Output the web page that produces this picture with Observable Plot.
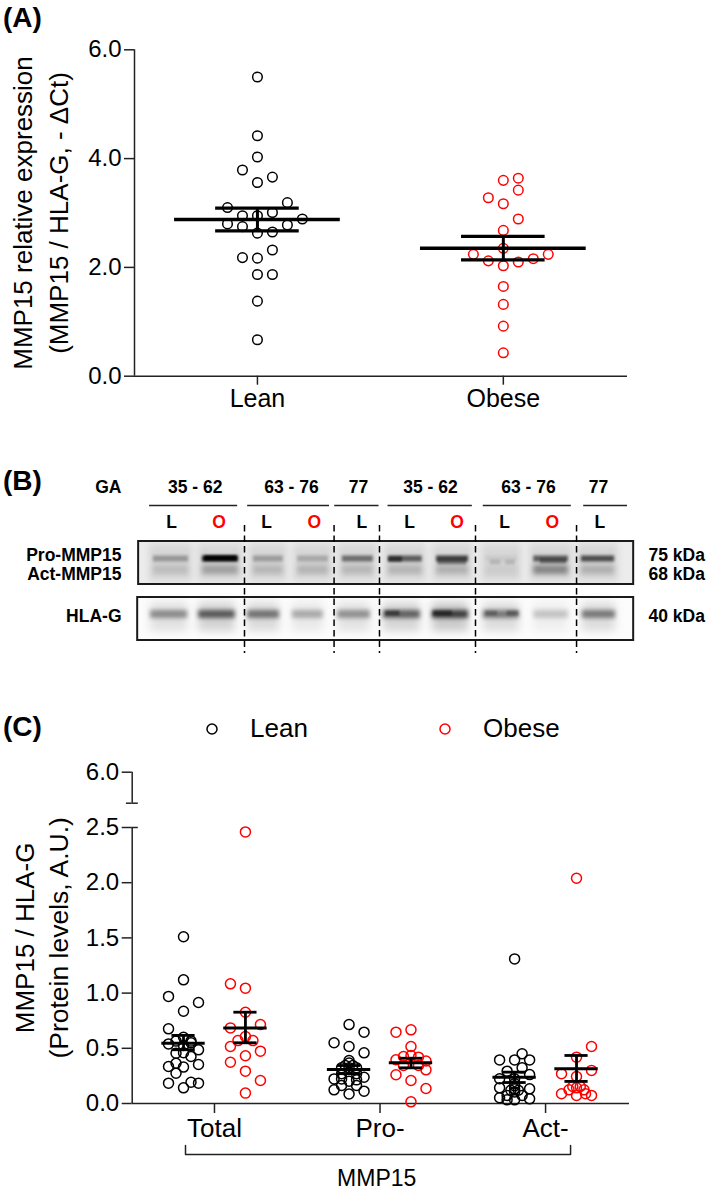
<!DOCTYPE html>
<html><head><meta charset="utf-8">
<script src="https://cdn.jsdelivr.net/npm/d3@7"></script>
<script src="https://cdn.jsdelivr.net/npm/@observablehq/plot@0.6"></script>
<style>
html,body{margin:0;padding:0;background:#fff;width:709px;height:1193px;overflow:hidden;font-family:"Liberation Sans",Arial,sans-serif}
#page{position:relative;width:709px;height:1193px}
.panel{position:absolute;left:0}
.tag{position:absolute;left:3px;font-size:28px;font-weight:bold;line-height:28px;color:#000}
.leg{position:absolute;font-size:26px;line-height:28px;color:#000}
.legdot{position:absolute;width:14px;height:14px;overflow:visible}
svg{display:block}
</style></head><body><div id="page">
<div class="tag" style="top:4px">(A)</div>
<div class="tag" style="top:467px">(B)</div>
<div class="tag" style="top:713px">(C)</div>
<svg class="legdot" style="left:205px;top:722px" viewBox="0 0 14 14"><circle cx="7" cy="7" r="5" fill="none" stroke="#000" stroke-width="1.5"/></svg><div class="leg" style="left:250px;top:714px">Lean</div>
<svg class="legdot" style="left:438px;top:722px" viewBox="0 0 14 14"><circle cx="7" cy="7" r="5" fill="none" stroke="#f00" stroke-width="1.5"/></svg><div class="leg" style="left:483px;top:714px">Obese</div>
</div>
<script>
const RED = "#ff0000", FONT = '"Liberation Sans",Arial,sans-serif';

// ---------- Panel A ----------
const aGroups = ["Lean", "Obese"];
const aLeanValues  = [5.50,4.42,4.03,3.79,3.56,3.66,3.19,3.10,2.95,2.95,3.01,2.89,2.80,2.75,2.78,2.63,2.65,2.32,2.18,2.17,1.87,1.87,1.38,0.67];
const aLeanColumns = [0,0,0,-1,0,1,2,-2,-1,0,1,3,-2,-1,2,0,1,1,-1,0,0,1,0,0];
const aObeseValues  = [3.64,3.60,3.42,3.28,3.17,2.89,2.68,2.35,2.24,2.24,2.12,2.16,2.10,2.03,1.65,1.32,0.92,0.43];
const aObeseColumns = [1,0,1,-1,0,1,0,0,-2,3,-1,2,1,0,0,0,0,0];
const aMeans = [2.88, 2.35], aUpper = [3.09, 2.57], aLower = [2.67, 2.14];
const aTicks = [0, 2, 4, 6];

// ---------- Panel C ----------
const cGroups = ["Total", "Pro-", "Act-"];
const cOffset = 0.187;
const cLeanTotal = [1.51,1.12,0.97,0.915,0.836,0.676,0.60,0.565,0.565,0.54,0.526,0.55,0.486,0.46,0.455,0.426,0.353,0.335,0.365,0.33,0.275,0.184,0.193,0.184,0.142];
const cLeanTotalCols = [0,0,-1,1,0,-1,0,-0.5,0.5,-1,0,0.5,1,0,-0.5,0.5,1,-1,-0.5,0,-0.5,-1,0.5,1,0];
const cObeseTotal = [2.46,1.084,1.045,0.827,0.685,0.715,0.607,0.57,0.57,0.516,0.474,0.432,0.374,0.293,0.208,0.094];
const cObeseTotalCols = [0,-1,0,0,-1,1,0,-0.5,0.5,-1,1,0,-1,0,1,0];
const cLeanPro = [0.715,0.646,0.55,0.516,0.459,0.39,0.366,0.344,0.344,0.323,0.323,0.323,0.27,0.27,0.238,0.223,0.223,0.214,0.202,0.163,0.163,0.124,0.112,0.087];
const cLeanProCols = [0,1,-1,0,1,0,0,-0.25,0.25,0,-0.5,0.5,-0.5,0.5,1,-1,-0.5,0.5,0,-0.5,0.5,-1,1,0];
const cObesePro = [0.667,0.646,0.516,0.434,0.426,0.42,0.396,0.385,0.344,0.344,0.305,0.26,0.208,0.136,0.015];
const cObeseProCols = [0,-1,0,0,-0.5,0.5,-1,1,-0.5,0.5,1,-1,0,1,0];
const cLeanAct = [1.31,0.45,0.395,0.395,0.395,0.323,0.293,0.262,0.224,0.224,0.18,0.16,0.142,0.133,0.133,0.12,0.12,0.105,0.073,0.073,0.052,0.042,0.033,0.033];
const cLeanActCols = [0,0.5,-1,0,1,0.5,-0.5,1,-1,0,0,0,-1,1,0,-0.25,0.25,0,-0.5,0.5,-1,1,0,-0.5];
const cObeseAct = [2.04,0.516,0.42,0.30,0.27,0.245,0.154,0.154,0.142,0.124,0.124,0.088,0.088,0.073,0.073];
const cObeseActCols = [0,1,0,1,-1,0,-0.25,0.25,0,-0.5,0.5,-1,0.6,0,1];
const cLeanMeans = [0.546,0.308,0.238], cLeanUpper = [0.617,0.344,0.284], cLeanLower = [0.487,0.27,0.19];
const cObeseMeans = [0.685,0.368,0.314], cObeseUpper = [0.827,0.41,0.435], cObeseLower = [0.55,0.323,0.2];
const cTicks = [0, 0.5, 1, 1.5, 2, 2.5, 6];
const cBreakBottom = 2.6;

// ---------- Panel B (blot) ----------
const bGA = ["35 - 62","63 - 76","77","35 - 62","63 - 76","77"];
const bGACentres = [0.5,2.52,3.93,5.44,7.5,8.97];
const bGAStart = [-0.46,1.6,3.43,4.55,6.55,8.66];
const bGAEnd   = [1.39,3.32,4.36,6.32,8.4,9.58];
const bLanes = ["L","O","L","O","L","L","O","L","O","L"];
const bDividers = [1.534,3.416,4.37,6.387,8.51];
const bProStart = [-0.38,0.65,1.72,2.65,3.59,4.56,5.57,6.60,7.61,8.61];
const bProEnd   = [0.36,1.41,2.35,3.30,4.24,5.27,6.24,7.27,8.34,9.31];
const bProDark  = [0.30,0.85,0.28,0.22,0.50,0.58,0.72,0.06,0.58,0.65];
const bActDark  = [0.12,0.26,0.15,0.16,0.15,0.16,0.18,0.05,0.38,0.18];
const bHlaStart = [-0.44,0.57,1.60,2.54,3.49,4.45,5.48,6.55,7.61,8.63];
const bHlaEnd   = [0.34,1.34,2.27,3.19,4.18,5.23,6.24,7.31,8.34,9.33];
const bHlaDark  = [0.38,0.58,0.48,0.27,0.36,0.55,0.70,0.45,0.18,0.45];
const bSpotStart = [0.70,4.56,5.60,6.70,7.02,7.75,4.50,5.50,6.60,7.05];
const bSpotEnd   = [1.38,4.85,6.20,6.92,7.22,8.30,4.80,5.90,6.85,7.30];
const bSpotRow   = [558,559,562,562,562,561,613,613,613,613];
const bSpotDark  = [0.95,0.55,0.35,0.12,0.12,0.35,0.45,0.45,0.25,0.30];

function pts(vals, cols, group) { return vals.map((v,i)=>({v, col:cols[i], group})); }

// Panel A plot
const aStep = 0.0609;
const aPts = [...pts(aLeanValues,aLeanColumns,1), ...pts(aObeseValues,aObeseColumns,2)];
const aStats = aMeans.map((m,i)=>({g:i+1,m,u:aUpper[i],l:aLower[i]}));
const plotA = Plot.plot({
  width:709, height:430, marginLeft:134, marginRight:82, marginTop:49.3, marginBottom:54.3,
  style:{fontFamily:FONT, background:"transparent"},
  x:{type:"linear", domain:[0.5,2.505], axis:null},
  y:{domain:[0,6], axis:null},
  marks:[
    Plot.ruleX([0.5],{y1:0,y2:6,stroke:"#222",strokeWidth:1.5}),
    Plot.ruleY([0],{x1:0.5,x2:2.505,stroke:"#222",strokeWidth:1.5}),
    Plot.axisY({ticks:aTicks,tickFormat:d3.format(".1f"),tickSize:10,tickPadding:3,fontSize:24,label:null,stroke:"#222",strokeWidth:1.5,color:"#000",anchor:"left"}),
    Plot.axisX({ticks:[1,2],tickFormat:d=>aGroups[d-1],tickSize:9,tickPadding:4,fontSize:25,label:null,stroke:"#222",strokeWidth:1.5,color:"#000",anchor:"bottom"}),
    Plot.text(["MMP15 relative expression"],{text:d=>d,frameAnchor:"left",textAnchor:"middle",rotate:-90,dx:-111,fontSize:26}),
    Plot.text(["(MMP15 / HLA-G, - \u0394Ct)"],{text:d=>d,frameAnchor:"left",textAnchor:"middle",rotate:-90,dx:-75,fontSize:26}),
    Plot.dot(aPts,{x:d=>d.group+d.col*aStep,y:"v",r:4.8,fill:"none",stroke:d=>d.group===1?"#000":RED,strokeWidth:1.5}),
    Plot.ruleY(aStats,{y:"m",x1:d=>d.g-0.337,x2:d=>d.g+0.337,stroke:"#000",strokeWidth:3.5}),
    Plot.ruleY(aStats,{y:"u",x1:d=>d.g-0.17,x2:d=>d.g+0.17,stroke:"#000",strokeWidth:3.2}),
    Plot.ruleY(aStats,{y:"l",x1:d=>d.g-0.17,x2:d=>d.g+0.17,stroke:"#000",strokeWidth:3.2}),
    Plot.ruleX(aStats,{x:"g",y1:"l",y2:"u",stroke:"#000",strokeWidth:3})
  ]
});

// Panel B plot
const laneRows = bLanes.map((l,i)=>({l,i,x1:bProStart[i],x2:bProEnd[i],pro:bProDark[i],act:bActDark[i],h1:bHlaStart[i],h2:bHlaEnd[i],hla:bHlaDark[i]}));
const spots = bSpotStart.map((s,i)=>({x1:s,x2:bSpotEnd[i],r:bSpotRow[i],a:bSpotDark[i]}));
const gaRows = bGA.map((t,i)=>({t,c:bGACentres[i],s:bGAStart[i],e:bGAEnd[i]}));
const side = [["GA",487],["Pro-MMP15",555],["Act-MMP15",574],["HLA-G",616]];
const kda = [["75 kDa",555],["68 kDa",574],["40 kDa",615.7]];
const plotB = Plot.plot({
  width:709, height:200, margin:0,
  style:{fontFamily:FONT, background:"transparent"},
  x:{type:"linear", domain:[-3.592,11.303], axis:null},
  y:{domain:[460,660], range:[0,200], axis:null},
  marks:[
    Plot.rect([0],{x1:-0.69,x2:9.71,y1:541,y2:584,fill:"#ececec"}),
    Plot.rect([0],{x1:-0.71,x2:9.71,y1:597,y2:640,fill:"#fcfcfc"}),
    Plot.rect(laneRows,{x1:d=>d.x1-0.08,x2:d=>d.x2+0.08,y1:544,y2:581,fill:"#000",fillOpacity:0.085,imageFilter:"blur(3px)"}),
    Plot.rect(laneRows,{x1:"h1",x2:"h2",y1:602,y2:631,fill:"#000",fillOpacity:d=>d.hla*0.28,imageFilter:"blur(4px)"}),
    Plot.rect(laneRows,{x1:"x1",x2:"x2",y1:555.5,y2:561.5,fill:"#000",fillOpacity:"pro",imageFilter:"blur(1.8px)"}),
    Plot.rect(laneRows,{x1:"x1",x2:"x2",y1:565,y2:574,fill:"#000",fillOpacity:"act",imageFilter:"blur(2.4px)"}),
    Plot.rect(laneRows,{x1:"h1",x2:"h2",y1:610,y2:618,fill:"#000",fillOpacity:"hla",imageFilter:"blur(2px)"}),
    Plot.rect(spots,{x1:"x1",x2:"x2",y1:d=>d.r-2.5,y2:d=>d.r+2.5,fill:"#000",fillOpacity:"a",imageFilter:"blur(1.2px)"}),
    Plot.rect([0],{x1:-0.69,x2:9.71,y1:541,y2:584,fill:"none",stroke:"#1a1a1a",strokeWidth:2}),
    Plot.rect([0],{x1:-0.71,x2:9.71,y1:597,y2:640,fill:"none",stroke:"#1a1a1a",strokeWidth:2}),
    Plot.ruleX(bDividers,{x:d=>d,y1:525,y2:653,stroke:"#000",strokeWidth:1.5,strokeDasharray:"6.5,4"}),
    Plot.ruleY(gaRows,{y:505,x1:"s",x2:"e",stroke:"#222",strokeWidth:1.3}),
    Plot.text(gaRows,{x:"c",y:487,text:"t",fontSize:17.5,fontWeight:"bold"}),
    Plot.text(laneRows,{x:"i",y:521.5,text:"l",fontSize:17.5,fontWeight:"bold",fill:d=>d.l==="O"?RED:"#000"}),
    Plot.text(side,{x:-1.05,y:d=>d[1],text:d=>d[0],textAnchor:"end",fontSize:17.5,fontWeight:"bold"}),
    Plot.text(kda,{x:10.02,y:d=>d[1],text:d=>d[0],textAnchor:"start",fontSize:17.5,fontWeight:"bold"})
  ]
});

// Panel C plot
const cAll = [
  ...pts(cLeanTotal,cLeanTotalCols,1-cOffset),...pts(cLeanPro,cLeanProCols,2-cOffset),...pts(cLeanAct,cLeanActCols,3-cOffset)
].map(d=>({...d,color:"#000"})).concat([
  ...pts(cObeseTotal,cObeseTotalCols,1+cOffset),...pts(cObesePro,cObeseProCols,2+cOffset),...pts(cObeseAct,cObeseActCols,3+cOffset)
].map(d=>({...d,color:RED})));
const cStats = [
  ...cLeanMeans.map((m,i)=>({g:i+1-cOffset,m,u:cLeanUpper[i],l:cLeanLower[i]})),
  ...cObeseMeans.map((m,i)=>({g:i+1+cOffset,m,u:cObeseUpper[i],l:cObeseLower[i]}))
];
const cStep = 0.0906;
const plotC = Plot.plot({
  width:709, height:443, marginLeft:131.7, marginRight:80, marginTop:21.7, marginBottom:90,
  style:{fontFamily:FONT, background:"transparent"},
  x:{type:"linear", domain:[0.503,3.507], axis:null},
  y:{type:"linear", domain:[0,2.5,cBreakBottom,6], range:[353,77,52.7,21.7], axis:null},
  marks:[
    Plot.ruleX([0.503],{y1:0,y2:2.5,stroke:"#222",strokeWidth:1.5}),
    Plot.ruleX([0.503],{y1:cBreakBottom,y2:6,stroke:"#222",strokeWidth:1.5}),
    Plot.ruleY([0],{x1:0.503,x2:3.507,stroke:"#222",strokeWidth:1.5}),
    Plot.ruleY([2.5,cBreakBottom],{x1:0.503,x2:0.54,stroke:"#222",strokeWidth:1.5}),
    Plot.ruleY([cBreakBottom],{x1:0.468,x2:0.503,stroke:"#222",strokeWidth:1.5}),
    Plot.axisY({ticks:cTicks,tickFormat:d3.format(".1f"),tickSize:10,tickPadding:3,fontSize:24,label:null,stroke:"#222",strokeWidth:1.5,color:"#000",anchor:"left"}),
    Plot.axisX({ticks:[1,2,3],tickFormat:d=>cGroups[d-1],tickSize:10,tickPadding:5,fontSize:26,label:null,stroke:"#222",strokeWidth:1.5,color:"#000",anchor:"bottom"}),
    Plot.line([[0.825,-0.38],[0.825,-0.462],[3.151,-0.462],[3.151,-0.38]],{stroke:"#222",strokeWidth:1.5}),
    Plot.text(["MMP15"],{x:1.98,y:-0.68,text:d=>d,fontSize:23}),
    Plot.text(["MMP15 / HLA-G"],{text:d=>d,frameAnchor:"left",textAnchor:"middle",rotate:-90,dx:-107,fontSize:26}),
    Plot.text(["(Protein levels, A.U.)"],{text:d=>d,frameAnchor:"left",textAnchor:"middle",rotate:-90,dx:-73,fontSize:26.5}),
    Plot.dot(cAll,{x:d=>d.group+d.col*cStep,y:"v",r:5,fill:"none",stroke:"color",strokeWidth:1.5}),
    Plot.ruleY(cStats,{y:"m",x1:d=>d.g-0.131,x2:d=>d.g+0.131,stroke:"#000",strokeWidth:3}),
    Plot.ruleY(cStats,{y:"u",x1:d=>d.g-0.07,x2:d=>d.g+0.07,stroke:"#000",strokeWidth:2.8}),
    Plot.ruleY(cStats,{y:"l",x1:d=>d.g-0.07,x2:d=>d.g+0.07,stroke:"#000",strokeWidth:2.8}),
    Plot.ruleX(cStats,{x:"g",y1:"l",y2:"u",stroke:"#000",strokeWidth:2.8})
  ]
});

const page = document.getElementById("page");
[[plotA,0],[plotB,460],[plotC,750]].forEach(([p,top])=>{
  const d=document.createElement("div"); d.className="panel"; d.style.top=top+"px"; d.appendChild(p); page.appendChild(d);
});
</script></body></html>
